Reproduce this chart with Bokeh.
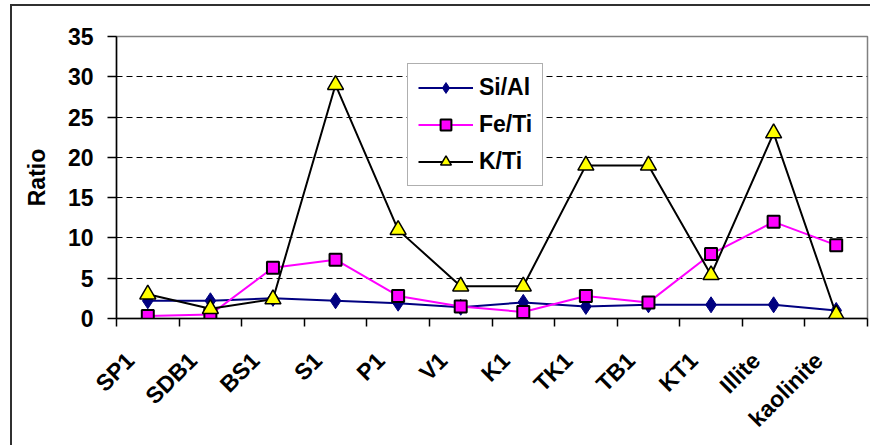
import math

from bokeh.embed import file_html
from bokeh.layouts import column
from bokeh.models import (ColumnDataSource, FixedTicker, Legend, LegendItem,
                          Range1d)
from bokeh.plotting import figure
from bokeh.resources import INLINE

# Samples and element ratios
categories = ["SP1", "SDB1", "BS1", "S1", "P1", "V1", "K1", "TK1", "TB1",
              "KT1", "Illite", "kaolinite"]
si_al = [2.2, 2.2, 2.5, 2.2, 1.9, 1.4, 2.0, 1.5, 1.7, 1.7, 1.7, 1.0]
fe_ti = [0.3, 0.5, 6.3, 7.3, 2.8, 1.5, 0.8, 2.8, 2.0, 8.0, 12.0, 9.1]
k_ti = [3.0, 1.2, 2.4, 29.0, 11.0, 4.0, 4.0, 19.0, 19.0, 5.4, 23.0, 0.5]
y_ticks = [0, 5, 10, 15, 20, 25, 30, 35]

FONT = "Liberation Sans"

# one slot per sample; points sit in the middle of each slot
xs = [i + 0.5 for i in range(len(categories))]
src = ColumnDataSource(dict(x=xs, si_al=si_al, fe_ti=fe_ti, k_ti=k_ti))

p = figure(width=858, height=439, output_backend="svg", toolbar_location=None,
           x_range=Range1d(0, len(categories)), y_range=Range1d(0, 35),
           min_border_left=104, min_border_top=30, min_border_right=3,
           min_border_bottom=127)

p.outline_line_color = "#808080"
p.outline_line_width = 1.5
p.background_fill_color = "white"
p.border_fill_color = "white"

# x axis: slanted labels nudged left of each slot centre,
# tick marks on the slot boundaries
label_pos = [x - 0.28 for x in xs]
xax = p.xaxis[0]
xax.ticker = FixedTicker(ticks=label_pos,
                         minor_ticks=list(range(len(categories) + 1)))
xax.major_label_overrides = {x: c for x, c in zip(label_pos, categories)}
xax.major_label_orientation = math.pi / 4
xax.major_tick_out = 0
xax.major_tick_in = 0
xax.major_tick_line_color = None
xax.minor_tick_out = 8
xax.minor_tick_in = 0
xax.minor_tick_line_color = "black"
xax.minor_tick_line_width = 1.5
xax.axis_line_color = "black"
xax.axis_line_width = 1.5
xax.major_label_text_font = FONT
xax.major_label_text_font_style = "bold"
xax.major_label_text_font_size = "23px"
xax.major_label_text_color = "black"
xax.major_label_standoff = 30

yax = p.yaxis[0]
yax.ticker = FixedTicker(ticks=y_ticks)
yax.major_tick_out = 9
yax.major_tick_in = 0
yax.minor_tick_line_color = None
yax.axis_line_color = "black"
yax.axis_line_width = 1.5
yax.major_tick_line_width = 1.5
yax.major_label_text_font = FONT
yax.major_label_text_font_style = "bold"
yax.major_label_text_font_size = "23px"
yax.major_label_text_color = "black"
yax.major_label_standoff = 14
yax.axis_label = "Ratio"
yax.axis_label_text_font = FONT
yax.axis_label_text_font_style = "bold"
yax.axis_label_text_font_size = "23px"
yax.axis_label_text_color = "black"
yax.axis_label_standoff = 15

p.xgrid.visible = False
p.ygrid.ticker = FixedTicker(ticks=y_ticks[1:-1])
p.ygrid.grid_line_color = "black"
p.ygrid.grid_line_dash = "6 4"
p.ygrid.grid_line_width = 1

# series
l1 = p.line("x", "si_al", source=src, line_color="#000080", line_width=2)
m1 = p.scatter("x", "si_al", source=src, marker="diamond", size=16,
               fill_color="#000080", line_color="#000080")
l2 = p.line("x", "fe_ti", source=src, line_color="#FF00FF", line_width=2)
m2 = p.scatter("x", "fe_ti", source=src, marker="square", size=12,
               fill_color="#FF00FF", line_color="black", line_width=2)
l3 = p.line("x", "k_ti", source=src, line_color="black", line_width=2)
m3 = p.scatter("x", "k_ti", source=src, marker="triangle", size=16,
               fill_color="#FFFF00", line_color="black", line_width=1.5)

legend = Legend(items=[LegendItem(label="Si/Al", renderers=[l1, m1]),
                       LegendItem(label="Fe/Ti", renderers=[l2, m2]),
                       LegendItem(label="K/Ti", renderers=[l3, m3])],
                location=(291, 132))
legend.label_text_font = FONT
legend.label_text_font_style = "bold"
legend.label_text_font_size = "23px"
legend.label_text_color = "black"
legend.glyph_width = 55
legend.glyph_height = 27
legend.label_height = 27
legend.label_standoff = 6
legend.spacing = 10
legend.padding = 10
legend.margin = 0
legend.border_line_color = "#606060"
legend.border_line_width = 1.5
legend.background_fill_alpha = 1
p.add_layout(legend, "center")

page = column(p, margin=(4, 0, 0, 10),
              styles={"border-left": "2px solid #303030",
                      "border-top": "2px solid #303030"})

open("out.html", "w").write(file_html(page, INLINE))
